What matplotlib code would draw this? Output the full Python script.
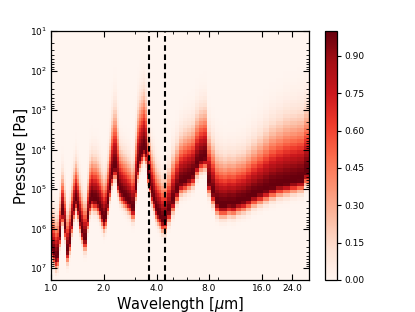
import numpy as np
import matplotlib.pyplot as plt
from matplotlib.ticker import FormatStrFormatter, NullFormatter, LogLocator, LogFormatterSciNotation

# wavelength bin centres [um]
wavelength = [1.007, 1.034, 1.061, 1.090, 1.119, 1.164, 1.195, 1.243, 1.277, 1.311,
              1.346, 1.382, 1.419, 1.457, 1.496, 1.536, 1.577, 1.619, 1.663, 1.707,
              1.753, 1.800, 1.848, 1.897, 1.948, 2.000, 2.054, 2.108, 2.165, 2.223,
              2.282, 2.344, 2.406, 2.471, 2.537, 2.604, 2.674, 2.746, 2.819, 2.894,
              2.971, 3.052, 3.134, 3.217, 3.303, 3.391, 3.482, 3.575, 3.671, 3.769,
              3.869, 3.973, 4.080, 4.189, 4.358, 4.534, 4.717, 4.973, 5.243, 5.528,
              5.828, 6.144, 6.477, 6.828, 7.199, 7.589, 8.000, 8.434, 8.891, 9.373,
              9.882, 10.42, 10.98, 11.73, 12.53, 13.39, 14.49, 15.68, 16.98, 18.38,
              20.16, 22.11, 24.25, 26.60, 29.17]

# log10 of pressure [Pa] where the contribution function peaks
peak_logp = [6.48, 6.60, 6.73, 6.66, 6.15, 5.59, 5.97, 6.55, 6.30, 5.84,
             5.47, 5.26, 5.47, 5.79, 6.05, 6.25, 6.25, 5.72, 5.34, 5.21,
             5.26, 5.26, 5.34, 5.47, 5.64, 5.77, 5.67, 5.34, 4.96, 4.63,
             4.45, 4.45, 4.83, 5.01, 5.09, 5.16, 5.21, 5.29, 5.34, 5.47,
             5.47, 4.96, 4.45, 4.20, 4.07, 3.95, 4.07, 4.58, 4.83, 5.09,
             5.26, 5.47, 5.59, 5.67, 5.79, 5.77, 5.54, 5.29, 5.03, 4.83,
             4.78, 4.71, 4.63, 4.38, 4.25, 4.20, 4.83, 5.09, 5.34, 5.41,
             5.41, 5.36, 5.38, 5.32, 5.28, 5.22, 5.14, 5.08, 5.01, 4.94,
             4.88, 4.84, 4.80, 4.76, 4.58]

# spread above the peak (decades, towards low pressure)
width_up = [0.50, 0.50, 0.50, 0.50, 0.50, 0.50, 0.50, 0.50, 0.50, 0.50,
            0.50, 0.50, 0.50, 0.50, 0.50, 0.50, 0.50, 0.50, 0.55, 0.55,
            0.55, 0.55, 0.55, 0.55, 0.55, 0.55, 0.55, 0.55, 0.60, 0.70,
            0.75, 0.75, 0.70, 0.55, 0.55, 0.55, 0.55, 0.55, 0.55, 0.55,
            0.60, 0.70, 0.75, 0.75, 0.75, 0.75, 0.70, 0.55, 0.55, 0.55,
            0.55, 0.55, 0.55, 0.55, 0.55, 0.55, 0.55, 0.60, 0.60, 0.62,
            0.65, 0.65, 0.65, 0.65, 0.65, 0.65, 0.65, 0.65, 0.65, 0.65,
            0.62, 0.62, 0.62, 0.62, 0.62, 0.65, 0.68, 0.72, 0.76, 0.80,
            0.82, 0.85, 0.85, 0.85, 0.85]
width_down = 0.18

irac_bands = [3.6, 4.5]
x_ticks = [1, 2, 4, 8, 16, 24]
y_ticks = [1e1, 1e2, 1e3, 1e4, 1e5, 1e6, 1e7]

# model grid
wl = np.array(wavelength)
wl_edges = np.concatenate([[1.0], np.sqrt(wl[1:] * wl[:-1]), [30.0]])
p_edges = np.logspace(1, 7.3, 70)
logp_mid = 0.5 * (np.log10(p_edges[1:]) + np.log10(p_edges[:-1]))

contrib = np.zeros((len(logp_mid), len(wl)))
for j in range(len(wl)):
    d = logp_mid - peak_logp[j]
    s = np.where(d < 0, width_up[j], width_down)
    col = np.exp(-0.5 * (d / s) ** 2)
    contrib[:, j] = col / col.max()

fig = plt.figure(figsize=(4.15, 3.12), dpi=100)
ax = fig.add_axes([0.124, 0.1026, 0.621, 0.798])
cax = fig.add_axes([0.783, 0.1026, 0.029, 0.798])

mesh = ax.pcolormesh(wl_edges, p_edges, contrib, cmap='Reds', vmin=0, vmax=1)
for b in irac_bands:
    ax.axvline(b, color='k', lw=1.5, linestyle=(0, (2.7, 1.7)))

ax.set_xscale('log')
ax.set_yscale('log')
ax.set_xlim(1.0, 30.0)
ax.set_ylim(2e7, 10)
ax.set_xticks(x_ticks)
ax.xaxis.set_major_formatter(FormatStrFormatter('%.1f'))
ax.xaxis.set_minor_formatter(NullFormatter())
ax.set_yticks(y_ticks)
ax.yaxis.set_major_formatter(LogFormatterSciNotation())
ax.yaxis.set_minor_locator(LogLocator(base=10, subs=np.arange(2, 10), numticks=10))
ax.yaxis.set_minor_formatter(NullFormatter())
ax.tick_params(which='both', direction='in', top=True, right=True, labelsize=6.5, pad=3)
ax.tick_params(which='major', length=4)
ax.tick_params(which='minor', length=2)
for s in ax.spines.values():
    s.set_linewidth(0.9)
ax.set_xlabel(r'Wavelength [$\mu$m]', fontsize=10.5, labelpad=1)
ax.set_ylabel('Pressure [Pa]', fontsize=10.5, labelpad=1)

cb = fig.colorbar(mesh, cax=cax, ticks=np.arange(0, 0.91, 0.15))
cb.ax.yaxis.set_major_formatter(FormatStrFormatter('%.2f'))
cb.ax.tick_params(labelsize=6.5, length=3, pad=2)
cb.outline.set_linewidth(0.9)

fig.savefig('out.png', dpi=100)
